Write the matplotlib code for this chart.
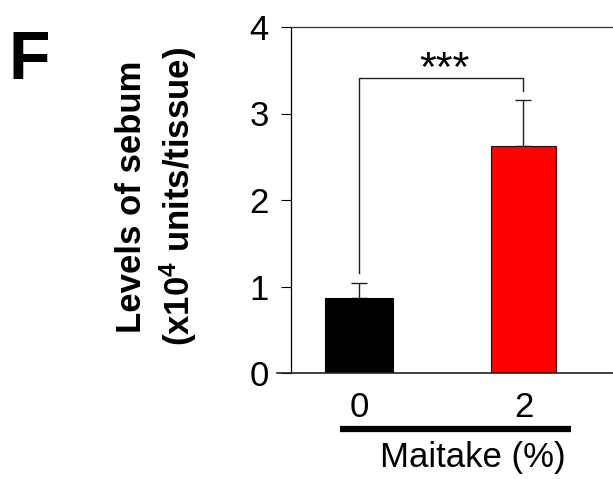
import numpy as np
from matplotlib import pyplot as plt

plt.rcParams['font.family'] = ['Liberation Sans', 'DejaVu Sans']
plt.rcParams['mathtext.fontset'] = 'custom'
plt.rcParams['mathtext.bf'] = 'Liberation Sans:bold'

# data (panel F)
groups = ['0', '2']
means = [0.87, 2.62]
sem = [0.17, 0.54]
bar_colors = ['#000000', '#ff0000']
yticks = [0, 1, 2, 3, 4]

fig = plt.figure(figsize=(6.13, 4.79), dpi=100)
ax = fig.add_axes([291/613, 106/479, 322/613, 346/479])

x = np.arange(len(groups))
ax.bar(x, means, width=[0.415, 0.395], color=bar_colors,
       edgecolor=['#000000', '#3a0000'], linewidth=0.8, zorder=2)
ax.errorbar(x, means, yerr=[np.zeros(len(sem)), sem], fmt='none',
            ecolor='#222222', elinewidth=1, capsize=6, capthick=1, zorder=1)

# significance bracket
ax.plot([0, 0, 1, 1], [1.16, 3.41, 3.41, 3.26], color='#222222', lw=1)
ax.text(0.517, 3.5, '***', ha='center', va='center', fontsize=31)

ax.set_xlim(-0.413, 1.544)
ax.set_ylim(0, 4)
ax.set_yticks(yticks)
ax.set_yticklabels([str(t) for t in yticks], fontsize=25)
ax.set_xticks(x)
ax.set_xticklabels(groups, fontsize=25)
ax.tick_params(axis='y', direction='out', length=7, width=0.8, pad=9)
ax.tick_params(axis='x', length=0, pad=13)

for s in ['right', 'bottom']:
    ax.spines[s].set_visible(False)
ax.spines['left'].set_linewidth(0.9)
ax.spines['top'].set_linewidth(0.9)
ax.spines['top'].set_color('#333333')

# baseline that starts left of the y axis
ax.plot([-0.498, 1.544], [0, 0], color='#222222', lw=1.2, clip_on=False, zorder=3)
# group underline and label
ax.plot([-0.116, 1.29], [-0.647, -0.647], color='black', lw=4.5,
        clip_on=False, solid_capstyle='butt')
ax.text(0.693, -0.98, 'Maitake (%)', ha='center', va='center', fontsize=25,
        clip_on=False)

fig.text(157/613, 1 - 197/479, 'Levels of sebum\n(x10$\\mathbf{^4}$ units/tissue)',
         rotation=90, ha='center', va='center', fontsize=25, fontweight='bold',
         multialignment='center', linespacing=1.3)
fig.text(29/613, 1 - 61/479, 'F', ha='center', va='center', fontsize=49,
         fontweight='bold')

fig.savefig('out.png', dpi=100)
